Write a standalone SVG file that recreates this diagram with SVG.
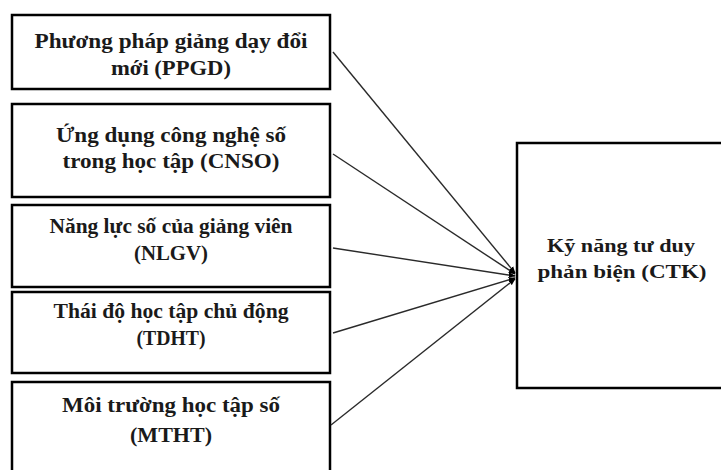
<svg xmlns="http://www.w3.org/2000/svg" width="721" height="470" viewBox="0 0 721 470">
<style>
.box{fill:#fff;stroke:#000;stroke-width:2.5}
.t{font-family:"Liberation Serif","Times New Roman",serif;font-weight:bold;font-size:20px;fill:#1a1a1a;text-anchor:middle}
.tr{font-size:18px}
.ln{stroke:#2a2a2a;stroke-width:1.4;fill:none}
</style>
<defs>
<marker id="ah" viewBox="0 0 10 10" refX="9" refY="5" markerWidth="7" markerHeight="7" orient="auto" markerUnits="userSpaceOnUse">
<path d="M0,1 L10,5 L0,9 z" fill="#000"/>
</marker>
</defs>
<g id="n1"><rect class="box" x="12" y="15" width="318" height="74"/>
<text class="t" x="171" y="48" textLength="273" lengthAdjust="spacingAndGlyphs">Phương pháp giảng dạy đổi</text>
<text class="t" x="171" y="75" textLength="120" lengthAdjust="spacingAndGlyphs">mới (PPGD)</text></g>
<g id="n2"><rect class="box" x="12" y="104" width="318" height="93"/>
<text class="t" x="171" y="142" textLength="230" lengthAdjust="spacingAndGlyphs">Ứng dụng công nghệ số</text>
<text class="t" x="171" y="168" textLength="217" lengthAdjust="spacingAndGlyphs">trong học tập (CNSO)</text></g>
<g id="n3"><rect class="box" x="12" y="205" width="318" height="82"/>
<text class="t" x="171" y="233" textLength="243" lengthAdjust="spacingAndGlyphs">Năng lực số của giảng viên</text>
<text class="t" x="171" y="260" textLength="74" lengthAdjust="spacingAndGlyphs">(NLGV)</text></g>
<g id="n4"><rect class="box" x="12" y="292" width="318" height="81"/>
<text class="t" x="171" y="318" textLength="235" lengthAdjust="spacingAndGlyphs">Thái độ học tập chủ động</text>
<text class="t" x="171" y="345" textLength="69" lengthAdjust="spacingAndGlyphs">(TDHT)</text></g>
<g id="n5"><rect class="box" x="12" y="382" width="318" height="100"/>
<text class="t" x="171" y="412" textLength="218" lengthAdjust="spacingAndGlyphs">Môi trường học tập số</text>
<text class="t" x="171" y="442" textLength="82" lengthAdjust="spacingAndGlyphs">(MTHT)</text></g>
<g id="ctk"><rect class="box" x="517" y="143" width="210" height="245"/>
<text class="t tr" x="621" y="252" textLength="148" lengthAdjust="spacingAndGlyphs">Kỹ năng tư duy</text>
<text class="t tr" x="622" y="278" textLength="169" lengthAdjust="spacingAndGlyphs">phản biện (CTK)</text></g>
<g id="connectors">
<line class="ln" x1="333" y1="52" x2="515" y2="273" marker-end="url(#ah)"/>
<line class="ln" x1="333" y1="154" x2="515" y2="274" marker-end="url(#ah)"/>
<line class="ln" x1="333" y1="248" x2="515" y2="276" marker-end="url(#ah)"/>
<line class="ln" x1="333" y1="333" x2="515" y2="278" marker-end="url(#ah)"/>
<line class="ln" x1="331" y1="425" x2="515" y2="279" marker-end="url(#ah)"/>
</g>
</svg>
